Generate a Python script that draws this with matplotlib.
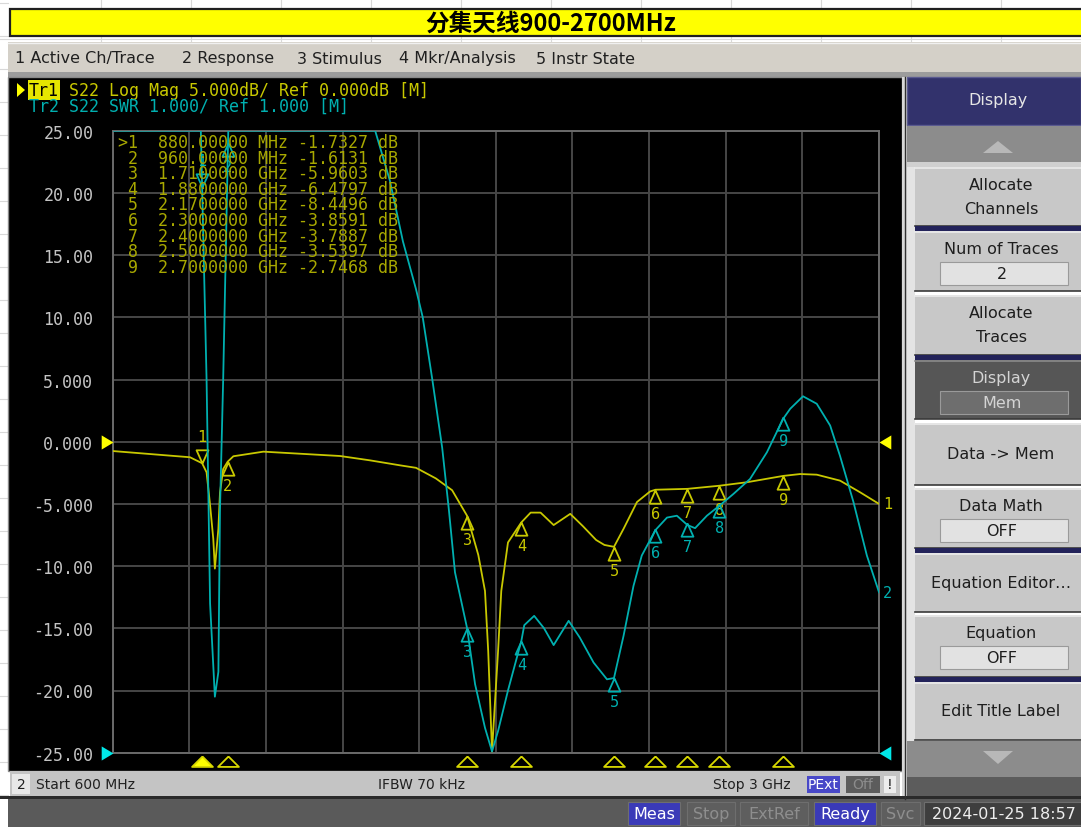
import matplotlib
matplotlib.use('Agg')
import matplotlib.pyplot as plt
import matplotlib.patches as mpatches
from matplotlib.path import Path
from matplotlib.markers import MarkerStyle
import numpy as np

W, H = 1081, 828

# Tr1: S22 log mag (dB)
f_tr1 = [600, 842, 880, 894, 905, 915, 920, 931, 936, 946, 960, 978, 1072, 1312,
         1406, 1500, 1550, 1612, 1663, 1710, 1745, 1766, 1776, 1788, 1807, 1817,
         1838, 1880, 1909, 1940, 1981, 2033, 2073, 2114, 2140, 2170, 2200, 2242,
         2283, 2300, 2400, 2500, 2586, 2700, 2753, 2805, 2878, 2941, 3000]
db_tr1 = [-0.75, -1.25, -1.73, -2.46, -5.1, -7.8, -10.2, -7.0, -4.1, -2.2, -1.61,
          -1.17, -0.8, -1.15, -1.5, -1.9, -2.1, -2.95, -3.9, -5.96, -9.1, -12.0,
          -16.8, -24.9, -16.8, -12.0, -8.1, -6.48, -5.7, -5.7, -6.7, -5.8, -6.8,
          -7.9, -8.3, -8.45, -7.0, -4.85, -4.0, -3.86, -3.79, -3.54, -3.26, -2.75,
          -2.6, -2.65, -3.13, -4.07, -5.0]

# Tr2: S22 SWR (pinned at 11 where the instrument clips it at the top)
f_tr2 = [600, 876, 894, 905, 920, 931, 936, 946, 962, 1422, 1468, 1509, 1550, 1571,
         1601, 1632, 1653, 1672, 1710, 1735, 1766, 1788, 1807, 1838, 1880, 1889,
         1920, 1951, 1981, 2028, 2063, 2106, 2148, 2170, 2200, 2231, 2257, 2300,
         2336, 2367, 2400, 2424, 2461, 2500, 2544, 2596, 2649, 2700, 2722, 2762,
         2805, 2847, 2878, 2920, 2962, 3000]
swr_tr2 = [11.0, 11.0, 7.0, 3.4, 1.9, 2.3, 4.9, 7.0, 11.0, 11.0, 10.2, 9.22, 8.45,
           8.0, 7.0, 5.9, 4.9, 3.9, 3.0, 2.1, 1.4, 1.02, 1.35, 2.0, 2.8, 3.05, 3.2,
           3.0, 2.73, 3.12, 2.85, 2.45, 2.18, 2.2, 2.88, 3.68, 4.17, 4.58, 4.78,
           4.81, 4.66, 4.61, 4.81, 4.97, 5.16, 5.4, 5.83, 6.37, 6.53, 6.73, 6.61,
           6.26, 5.77, 5.03, 4.17, 3.58]

# markers
mk_freq = [880, 960, 1710, 1880, 2170, 2300, 2400, 2500, 2700]
mk_db = [-1.7327, -1.6131, -5.9603, -6.4797, -8.4496, -3.8591, -3.7887, -3.5397, -2.7468]
mk_swr = [10.1, 10.8, 3.0, 2.8, 2.2, 4.6, 4.7, 5.0, 6.4]

db_ticks = [25, 20, 15, 10, 5, 0, -5, -10, -15, -20, -25]
db_tick_labels = ['25.00', '20.00', '15.00', '10.00', '5.000', '0.000',
                  '-5.000', '-10.00', '-15.00', '-20.00', '-25.00']

title = '分集天线900-2700MHz'
menu_items = [('1 Active Ch/Trace', 15), ('2 Response', 182), ('3 Stimulus', 297),
              ('4 Mkr/Analysis', 399), ('5 Instr State', 536)]

YEL = '#c8c800'
YEL_TXT = '#a8a800'
CYN = '#00b0b0'
MONO = 'DejaVu Sans Mono'

fig = plt.figure(figsize=(W / 100, H / 100), dpi=100)
fig.patch.set_facecolor('white')

# ---- window chrome in pixel coordinates ----
bg = fig.add_axes([0, 0, 1, 1])
bg.set_xlim(0, W)
bg.set_ylim(H, 0)
bg.axis('off')


def box(x0, y0, x1, y1, fc, ec='none', lw=0, z=1):
    bg.add_patch(mpatches.Rectangle((x0, y0), x1 - x0, y1 - y0, facecolor=fc,
                                    edgecolor=ec, linewidth=lw, zorder=z))


def txt(x, y, s, size=11, color='#202020', ha='left', **kw):
    bg.text(x, y, s, fontsize=size, color=color, ha=ha, va='center', zorder=5, **kw)


# spreadsheet cells behind
for cx in [101, 191, 281, 371, 461, 551, 641, 731, 821, 911, 1001]:
    bg.plot([cx, cx], [0, 44], color='#d8d8d8', lw=0.8, zorder=0)
for ry in range(4, H, 33):
    bg.plot([0, 8], [ry, ry], color='#d8d8d8', lw=0.8, zorder=0)
bg.plot([0, W], [40, 40], color='#d8d8d8', lw=0.8, zorder=0)

# yellow title bar
box(10, 10, W + 2, 37, '#ffff00', ec='#202020', lw=1.6)
txt(551, 24, title, size=17, color='black', ha='center', weight='bold',
    family=['Noto Sans CJK SC', 'DejaVu Sans'])

# menu bar
box(8, 43, W, 73, '#d4d0c8')
bg.plot([8, W], [43.5, 43.5], color='#f0f0f0', lw=1, zorder=2)
box(8, 73, W, 78, '#9c9c9c')
for s, x in menu_items:
    txt(x, 59, s, size=11.5, color='#202020')

# black display panel
box(8, 78, 902, 772, 'black', ec='#8a8a8a', lw=1)
box(902, 78, 907, 800, '#d8d8d8')
bg.plot([904.5, 904.5], [78, 800], color='#303030', lw=1, zorder=2)

# header lines of the trace area
bg.add_patch(mpatches.Polygon([[17, 84], [17, 98], [25, 91]], closed=True,
                              facecolor='#ffff00', zorder=3))
txt(29, 91, 'Tr1', size=12, color='black', family=MONO,
    bbox=dict(boxstyle='square,pad=0.05', facecolor='#e6e600', edgecolor='none'))
txt(69, 91, 'S22 Log Mag 5.000dB/ Ref 0.000dB [M]', size=12, color=YEL, family=MONO)
txt(29, 107, 'Tr2 S22 SWR 1.000/ Ref 1.000 [M]', size=12, color=CYN, family=MONO)

# channel status bar
box(10, 772, 900, 797, '#c4c4c4')
box(12, 775, 30, 795, '#e8e8e8')
txt(21, 785, '2', size=10, ha='center')
txt(36, 785, 'Start 600 MHz', size=10)
txt(378, 785, 'IFBW 70 kHz', size=10)
txt(713, 785, 'Stop 3 GHz', size=10)
box(807, 777, 840, 794, '#4848c8')
txt(823.5, 785.5, 'PExt', size=10, color='white', ha='center')
box(846, 777, 880, 794, '#5c5c5c')
txt(863, 785.5, 'Off', size=10, color='#8c8c8c', ha='center')
box(884, 777, 896, 794, '#ececec')
txt(890, 785.5, '!', size=10, ha='center')

# instrument status bar
box(0, 797, W, 800, '#2a2a2a')
box(8, 800, W, H, '#5a5a5a')
status = [('Meas', 628, 680, '#3a3ab8', 'white'), ('Stop', 687, 735, '#5e5e5e', '#8e8e8e'),
          ('ExtRef', 740, 808, '#5e5e5e', '#8e8e8e'), ('Ready', 814, 876, '#3a3ab8', 'white'),
          ('Svc', 881, 920, '#5e5e5e', '#8e8e8e'),
          ('2024-01-25 18:57', 924, W + 2, '#3e3e3e', '#eeeeee')]
for s, x0, x1, fc, tc in status:
    box(x0, 803, x1, 826, fc, ec='#6e6e6e', lw=0.8)
    txt((x0 + x1) / 2, 814.5, s, size=11.5, color=tc, ha='center')

# softkey panel
box(907, 78, W, 126, '#32326c', ec='#5a5a90', lw=1)
txt(998, 101, 'Display', size=11.5, color='#e6e6e6', ha='center')
box(907, 127, W, 163, '#8c8c8c')
bg.add_patch(mpatches.Polygon([[983, 154], [1013, 154], [998, 142]], closed=True,
                              facecolor='#b8b8b8', zorder=3))
box(907, 163, W, 168, '#d0d0d0')
box(907, 168, 915, 742, '#e4e4e4')

softkeys = [
    (168, 227, ['Allocate', 'Channels'], None, False),
    (232, 292, ['Num of Traces'], '2', False),
    (296, 356, ['Allocate', 'Traces'], None, False),
    (361, 420, ['Display'], 'Mem', True),
    (424, 486, ['Data -> Mem'], None, False),
    (489, 549, ['Data Math'], 'OFF', False),
    (554, 613, ['Equation Editor…'], None, False),
    (616, 678, ['Equation'], 'OFF', False),
    (683, 741, ['Edit Title Label'], None, False),
]
for y0, y1, lines, val, dark in softkeys:
    fc = '#565656' if dark else '#c8c8c8'
    tc = '#d4d4d4' if dark else '#1e1e1e'
    box(915, y0, W, y1, fc)
    bg.plot([915, W], [y0 + 0.5, y0 + 0.5], color='#8a8a8a' if dark else '#ececec', lw=1.2, zorder=2)
    bg.plot([915, W], [y1 - 0.5, y1 - 0.5], color='#3a3a3a', lw=1.2, zorder=2)
    mid = (y0 + y1) / 2
    if val is None:
        if len(lines) == 2:
            txt(1001, mid - 12, lines[0], size=11.5, color=tc, ha='center')
            txt(1001, mid + 12, lines[1], size=11.5, color=tc, ha='center')
        else:
            txt(1001, mid, lines[0], size=11.5, color=tc, ha='center')
    else:
        txt(1001, y0 + 18, lines[0], size=11.5, color=tc, ha='center')
        box(940, y0 + 31, 1068, y0 + 54, '#6e6e6e' if dark else '#e2e2e2',
            ec='#9a9a9a', lw=0.8, z=2)
        txt(1002, y0 + 43, val, size=11.5, color=tc, ha='center')

# separators between softkey groups
for sy in [229.5, 358.5, 551.5, 680.5]:
    box(915, sy - 2.5, W, sy + 2.5, '#23235a', z=3)

box(907, 742, W, 778, '#8c8c8c')
bg.add_patch(mpatches.Polygon([[983, 752], [1013, 752], [998, 765]], closed=True,
                              facecolor='#b8b8b8', zorder=3))
box(907, 778, W, 797, '#5c5c5c')

# ---- measurement grid ----
L, R, T, B = 112.7, 879.0, 131.7, 753.7
ax = fig.add_axes([L / W, 1 - B / H, (R - L) / W, (B - T) / H])
ax.set_facecolor('black')
ax.set_xlim(600, 3000)
ax.set_ylim(-25, 25)
ax.set_xticks(np.linspace(600, 3000, 11))
ax.set_yticks(db_ticks)
ax.set_yticklabels(db_tick_labels, family=MONO, fontsize=12)
ax.tick_params(axis='x', length=0, labelbottom=False)
ax.tick_params(axis='y', length=0, pad=14, labelcolor='#c4c4c4')
ax.grid(True, color='#464646', lw=1.4)
for sp in ax.spines.values():
    sp.set_color('#6a6a6a')
    sp.set_linewidth(1.4)

ax2 = ax.twinx()
ax2.set_ylim(1, 11)
ax2.set_yticks([])
for sp in ax2.spines.values():
    sp.set_visible(False)

ax2.plot(f_tr2, swr_tr2, color=CYN, lw=1.3, zorder=3)
ax.plot(f_tr1, db_tr1, color=YEL, lw=1.3, zorder=4)

tri_below = MarkerStyle(Path([(0, 0), (-0.45, -1), (0.45, -1), (0, 0)]))
tri_above = MarkerStyle(Path([(0, 0), (-0.45, 1), (0.45, 1), (0, 0)]))
tri_axis = MarkerStyle(Path([(0, 0), (-1, -1), (1, -1), (0, 0)]))
ref_right = MarkerStyle(Path([(0, 0), (-1, 0.6), (-1, -0.6), (0, 0)]))
ref_left = MarkerStyle(Path([(0, 0), (1, 0.6), (1, -0.6), (0, 0)]))


def draw_markers(a, vals, color):
    for i, (f, v) in enumerate(zip(mk_freq, vals)):
        n = str(i + 1)
        if i == 0:
            a.plot(f, v, marker=tri_above, ms=19, mfc='none', mec=color, mew=1.3,
                   clip_on=False, zorder=6)
            a.annotate(n, (f, v), xytext=(0, 19), textcoords='offset points',
                       ha='center', va='center', color=color, family=MONO,
                       fontsize=11, annotation_clip=False, zorder=6)
        else:
            a.plot(f, v, marker=tri_below, ms=19, mfc='none', mec=color, mew=1.3,
                   clip_on=False, zorder=6)
            a.annotate(n, (f, v), xytext=(0, -17), textcoords='offset points',
                       ha='center', va='center', color=color, family=MONO,
                       fontsize=11, annotation_clip=False, zorder=6)


draw_markers(ax2, mk_swr, CYN)
draw_markers(ax, mk_db, YEL)

# marker positions under the grid
xt = ax.get_xaxis_transform()
for i, f in enumerate(mk_freq):
    ax.plot(f, -0.006, transform=xt, marker=tri_axis, ms=15,
            mfc='#ffff00' if i == 0 else 'none', mec='#d8d800', mew=1.3,
            clip_on=False, zorder=6)

# reference position arrows
ax.plot(600, 0, marker=ref_right, ms=17, mfc='#ffff00', mec='none', clip_on=False, zorder=6)
ax.plot(3000, 0, marker=ref_left, ms=17, mfc='#ffff00', mec='none', clip_on=False, zorder=6)
ax2.plot(600, 1, marker=ref_right, ms=17, mfc='#00e8e8', mec='none', clip_on=False, zorder=6)
ax2.plot(3000, 1, marker=ref_left, ms=17, mfc='#00e8e8', mec='none', clip_on=False, zorder=6)

# trace numbers at the stop frequency
ax.annotate('1', (f_tr1[-1], db_tr1[-1]), xytext=(3, 0), textcoords='offset points',
            ha='left', va='center', color=YEL, family=MONO, fontsize=11,
            annotation_clip=False)
ax2.annotate('2', (f_tr2[-1], swr_tr2[-1]), xytext=(3, 0), textcoords='offset points',
             ha='left', va='center', color=CYN, family=MONO, fontsize=11,
             annotation_clip=False)

# marker readout table
for i, (f, v) in enumerate(zip(mk_freq, mk_db)):
    fs = f'{f:.5f} MHz' if f < 1000 else f'{f / 1000:.7f} GHz'
    row = f"{'>' if i == 0 else ' '}{i + 1}  {fs} {v:.4f} dB"
    fig.text(118 / W, 1 - (143 + 15.6 * i) / H, row, family=MONO, fontsize=12,
             color=YEL_TXT, va='center', ha='left', zorder=10)

fig.savefig('out.png', dpi=100)
